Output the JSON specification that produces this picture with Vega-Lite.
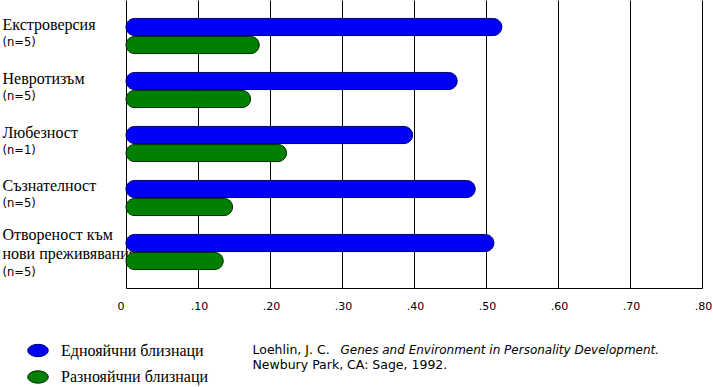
{
  "$schema": "https://vega.github.io/schema/vega-lite/v6.json",
  "width": 576,
  "height": 288,
  "autosize": {"type": "none"},
  "padding": {"left": 126, "top": 0, "right": 11, "bottom": 99},
  "background": "white",
  "config": {"view": {"stroke": null}},
  "data": {
    "values": [
      {"trait": "Екстроверсия|(n=5)", "twins": "Еднояйчни близнаци", "r": 0.522},
      {"trait": "Екстроверсия|(n=5)", "twins": "Разнояйчни близнаци", "r": 0.185},
      {"trait": "Невротизъм|(n=5)", "twins": "Еднояйчни близнаци", "r": 0.46},
      {"trait": "Невротизъм|(n=5)", "twins": "Разнояйчни близнаци", "r": 0.173},
      {"trait": "Любезност|(n=1)", "twins": "Еднояйчни близнаци", "r": 0.398},
      {"trait": "Любезност|(n=1)", "twins": "Разнояйчни близнаци", "r": 0.223},
      {"trait": "Съзнателност|(n=5)", "twins": "Еднояйчни близнаци", "r": 0.485},
      {"trait": "Съзнателност|(n=5)", "twins": "Разнояйчни близнаци", "r": 0.148},
      {"trait": "Отвореност към|нови преживявания|(n=5)", "twins": "Еднояйчни близнаци", "r": 0.511},
      {"trait": "Отвореност към|нови преживявания|(n=5)", "twins": "Разнояйчни близнаци", "r": 0.135}
    ]
  },
  "layer": [
    {
      "mark": {"type": "bar", "cornerRadius": 8.5, "strokeWidth": 1},
      "encoding": {
        "y": {
          "field": "trait", "type": "nominal", "sort": null,
          "scale": {"paddingInner": 0, "paddingOuter": 0.1667},
          "axis": {
            "orient": "left",
            "title": "Loehlin, J. C.",
            "titleX": 126, "titleY": 353.3, "titleAngle": 0, "titleAlign": "left", "titleBaseline": "alphabetic",
            "titleFont": "DejaVu Sans", "titleFontSize": 12.5, "titleFontWeight": "normal", "titleColor": "black",
            "domain": false, "ticks": false, "tickSize": 0, "grid": false,
            "labelExpr": "slice(split(datum.label, '|'), 0, -1)",
            "labelAlign": "left", "labelPadding": 124, "labelBaseline": "alphabetic",
            "labelFont": "Liberation Serif", "labelFontSize": 16, "labelColor": "black", "labelLineHeight": 19.3,
            "labelOffset": {"condition": {"test": "length(split(datum.value, '|')) > 2", "value": -12}, "value": -6.5},
            "labelLimit": 300
          }
        },
        "yOffset": {"field": "twins", "type": "nominal", "scale": {"paddingInner": 0.05, "paddingOuter": 0.525}},
        "x": {
          "field": "r", "type": "quantitative",
          "scale": {"domain": [0, 0.8], "nice": false},
          "axis": {
            "values": [0, 0.1, 0.2, 0.3, 0.4, 0.5, 0.6, 0.7, 0.8],
            "grid": true, "gridColor": "black", "gridOpacity": 1, "gridWidth": 1,
            "domain": true, "domainColor": "black", "domainWidth": 1,
            "ticks": false, "tickSize": 0,
            "labelExpr": "datum.value == 0 ? '0' : replace(format(datum.value, '.2f'), '0.', '.')",
            "labelFont": "DejaVu Sans", "labelFontSize": 11, "labelColor": "black",
            "labelPadding": 12, "labelBaseline": "top",
            "labelOffset": {"condition": {"test": "datum.value == 0", "value": -5.5}, "value": 1},
            "labelFlush": false, "labelOverlap": false, "labelBound": false,
            "title": "Genes and Environment in Personality Development.",
            "titleX": 214, "titleY": 65.3, "titleAlign": "left", "titleBaseline": "alphabetic", "titleAngle": 0,
            "titleFont": "DejaVu Sans", "titleFontSize": 12, "titleFontStyle": "italic", "titleFontWeight": "normal", "titleColor": "black"
          }
        },
        "fill": {
          "field": "twins", "type": "nominal",
          "scale": {"range": ["#0000F8", "#008000"]},
          "legend": {
            "title": null, "orient": "none", "legendX": -99, "legendY": 339.5,
            "symbolType": "M-1,0A1,0.6 0 1,0 1,0A1,0.6 0 1,0 -1,0Z", "symbolSize": 420, "symbolStrokeWidth": 1,
            "labelFont": "Liberation Serif", "labelFontSize": 16, "labelColor": "black", "labelOffset": 12,
            "rowPadding": 6.5, "padding": 0, "labelLimit": 300
          }
        },
        "stroke": {
          "field": "twins", "type": "nominal",
          "scale": {"range": ["#000070", "#002800"]},
          "legend": {
            "title": null, "orient": "none", "legendX": -99, "legendY": 339.5,
            "symbolType": "M-1,0A1,0.6 0 1,0 1,0A1,0.6 0 1,0 -1,0Z", "symbolSize": 420, "symbolStrokeWidth": 1,
            "labelFont": "Liberation Serif", "labelFontSize": 16, "labelColor": "black", "labelOffset": 12,
            "rowPadding": 6.5, "padding": 0, "labelLimit": 300
          }
        }
      }
    },
    {
      "mark": {"type": "tick", "opacity": 0},
      "encoding": {
        "y": {
          "field": "trait", "type": "nominal", "sort": null,
          "axis": {
            "orient": "left",
            "title": "Newbury Park, CA: Sage, 1992.",
            "titleX": 126, "titleY": 368.3, "titleAngle": 0, "titleAlign": "left", "titleBaseline": "alphabetic",
            "titleFont": "DejaVu Sans", "titleFontSize": 12.5, "titleFontWeight": "normal", "titleColor": "black",
            "domain": false, "ticks": false, "tickSize": 0, "grid": false,
            "labelExpr": "peek(split(datum.label, '|'))",
            "labelAlign": "left", "labelPadding": 124, "labelBaseline": "alphabetic",
            "labelFont": "DejaVu Sans", "labelFontSize": 11.5, "labelColor": "black",
            "labelOffset": {"condition": {"test": "length(split(datum.value, '|')) > 2", "value": 24}, "value": 9.5},
            "labelLimit": 300
          }
        }
      }
    }
  ],
  "resolve": {"axis": {"y": "independent"}}
}
